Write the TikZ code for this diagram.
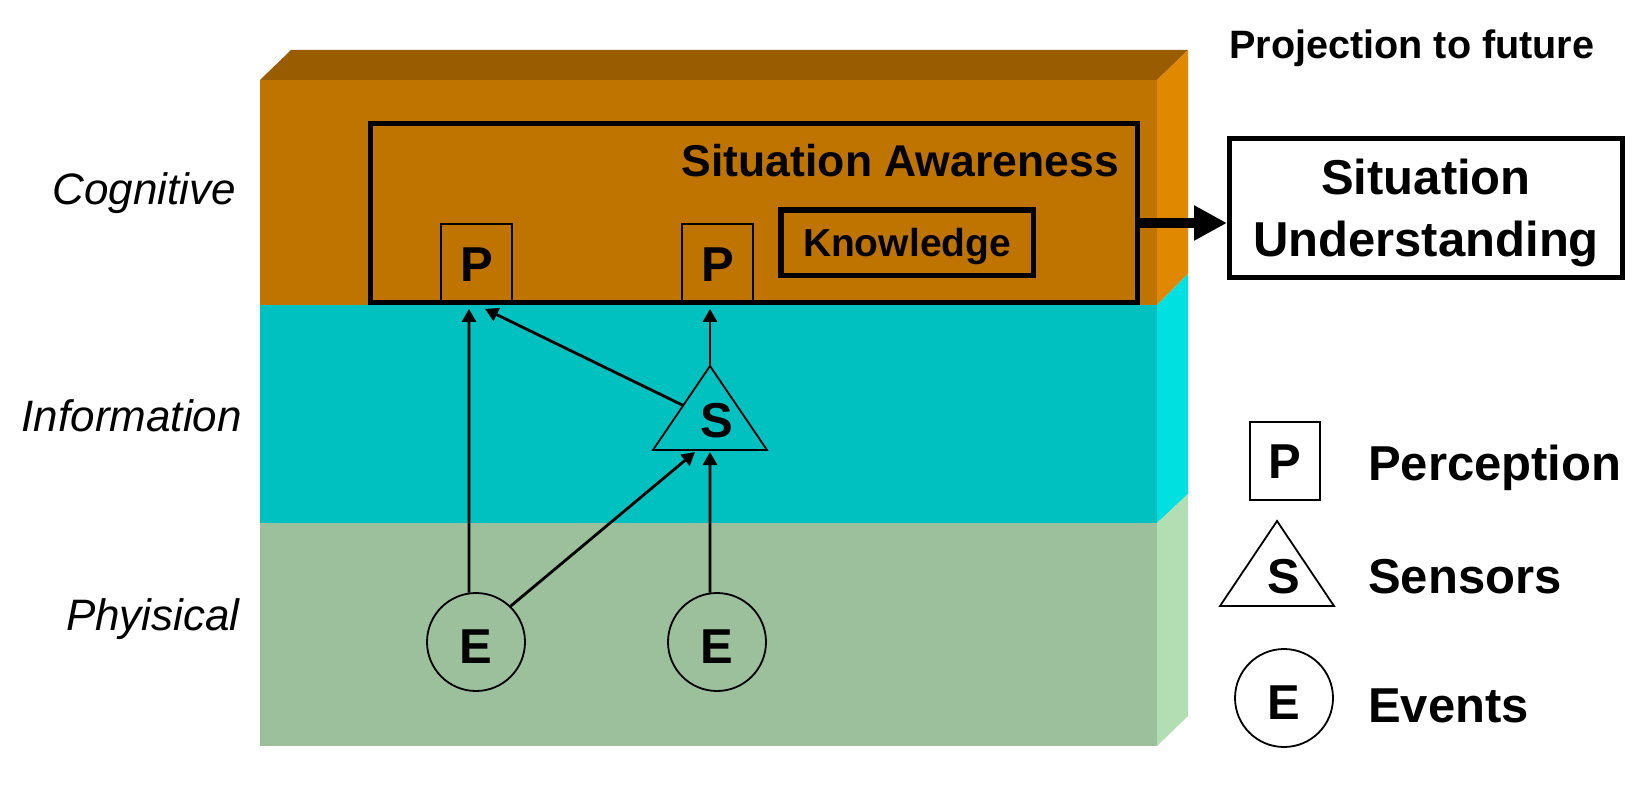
\documentclass[tikz,border=0pt]{standalone}
\usepackage{fontspec}
\setmainfont{Liberation Sans}
\usetikzlibrary{arrows.meta,calc}
\definecolor{cogfront}{HTML}{C07400}
\definecolor{cogtop}{HTML}{9A5C00}
\definecolor{cogside}{HTML}{E08800}
\definecolor{infofront}{HTML}{00C0C0}
\definecolor{infoside}{HTML}{00E0E0}
\definecolor{physfront}{HTML}{9BC09B}
\definecolor{physside}{HTML}{B3DEB3}
\begin{document}
\begin{tikzpicture}[x=1pt,y=-1pt,
  layerlabel/.style={anchor=base east, inner sep=0pt, font=\fontsize{44}{50}\selectfont\itshape},
  letterfont/.style={font=\fontsize{49}{56}\selectfont\bfseries},
  pbox/.style={draw, line width=1.8pt, inner sep=0pt, text height=35pt, text depth=0pt, letterfont},
  ecirc/.style={draw, circle, line width=1.8pt, minimum size=98pt, inner sep=0pt, text height=42pt, text depth=0pt, letterfont},
  tri/.style={line width=1.8pt, line join=miter},
  thickbox/.style={draw, line width=5pt, inner sep=0pt},
  legendtext/.style={anchor=base west, inner sep=0pt, letterfont},
  conn/.style={line width=2.8pt, -{Triangle[length=13pt,width=14pt]}},
  bigarrow/.style={line width=10pt, -{Triangle[length=33pt,width=33pt]}}
]
\useasboundingbox (0,0) rectangle (1645,784);
% 3D block
\fill[cogtop] (260,80) -- (291,50) -- (1188,50) -- (1157,80) -- cycle;
\fill[cogfront] (260,80) rectangle (1157,305);
\fill[infofront] (260,305) rectangle (1157,523);
\fill[physfront] (260,523) rectangle (1157,746);
\fill[cogside] (1157,80) -- (1188,50) -- (1188,274) -- (1157,305) -- cycle;
\fill[infoside] (1157,305) -- (1188,274) -- (1188,494) -- (1157,523) -- cycle;
\fill[physside] (1157,523) -- (1188,494) -- (1188,716) -- (1157,746) -- cycle;
% layer labels
\node[layerlabel] (lcog) at (236,204) {Cognitive};
\node[layerlabel] (linfo) at (242,431) {Information};
\node[layerlabel] (lphys) at (240,630) {Phyisical};
% situation awareness
\node[thickbox, minimum width=767pt, minimum height=179pt] (SA) at (754,213) {};
\node[anchor=base east, inner sep=0pt, font=\fontsize{44.5}{50}\selectfont\bfseries] (SAt) at (1119,176) {Situation Awareness};
\node[thickbox, line width=5.5pt, minimum width=252.5pt, minimum height=65.5pt, text height=28pt, text depth=0pt, font=\fontsize{39}{45}\selectfont\bfseries] (K) at (907,242.5) {Knowledge};
\node[pbox, minimum width=71pt, minimum height=79pt] (P1) at (476.5,263.5) {P};
\node[pbox, minimum width=71pt, minimum height=79pt] (P2) at (717.5,263.5) {P};
% sensor triangle
\coordinate (Sapex) at (710,366);
\coordinate (Sleft) at (653,450);
\coordinate (Sright) at (767,450);
\coordinate (Sbase) at (710,450);
\draw[tri] (Sapex) -- (Sleft) -- (Sright) -- cycle;
\node[anchor=base, inner sep=0pt, letterfont] (S) at (717,437) {S};
% events
\node[ecirc] (E1) at (476,642) {E};
\node[ecirc] (E2) at (717,642) {E};
% connectors
\draw[conn] (E1.98) -- ($(P1.south)+(-7.5,5)$);
\draw[conn] ($(Sapex)!0.47!(Sleft)$) -- ($(P1.south)+(8.5,5)$);
\draw[conn] (Sapex) -- ($(Sapex |- P2.south)+(0,5)$);
\draw[conn] (E1.46) -- ($(Sbase)+(-15,2)$);
\draw[conn] (E2.98) -- ($(Sbase)+(0,2)$);
% right side
\node[anchor=base west, inner sep=0pt, font=\fontsize{39.6}{45}\selectfont\bfseries] (proj) at (1229,59) {Projection to future};
\node[thickbox, minimum width=393pt, minimum height=139pt] (SU) at (1426,208) {};
\node[align=center, inner sep=0pt, font=\fontsize{49}{62}\selectfont\bfseries] (SUt) at (1426,213) {Situation\\Understanding};
\coordinate (ay) at (0,223);
\draw[bigarrow] (SA.east |- ay) -- (SU.west |- ay);
% legend
\node[pbox, minimum width=70pt, minimum height=78pt] (LP) at (1285,461) {P};
\node[legendtext] (LPt) at (1368,480) {Perception};
\coordinate (LSapex) at (1277,521);
\coordinate (LSleft) at (1220,606);
\coordinate (LSright) at (1334,606);
\draw[tri] (LSapex) -- (LSleft) -- (LSright) -- cycle;
\node[anchor=base, inner sep=0pt, letterfont] (LS) at (1284,593) {S};
\node[legendtext] (LSt) at (1368,593) {Sensors};
\node[ecirc] (LE) at (1284,698) {E};
\node[legendtext] (LEt) at (1368,722) {Events};
\end{tikzpicture}
\end{document}
